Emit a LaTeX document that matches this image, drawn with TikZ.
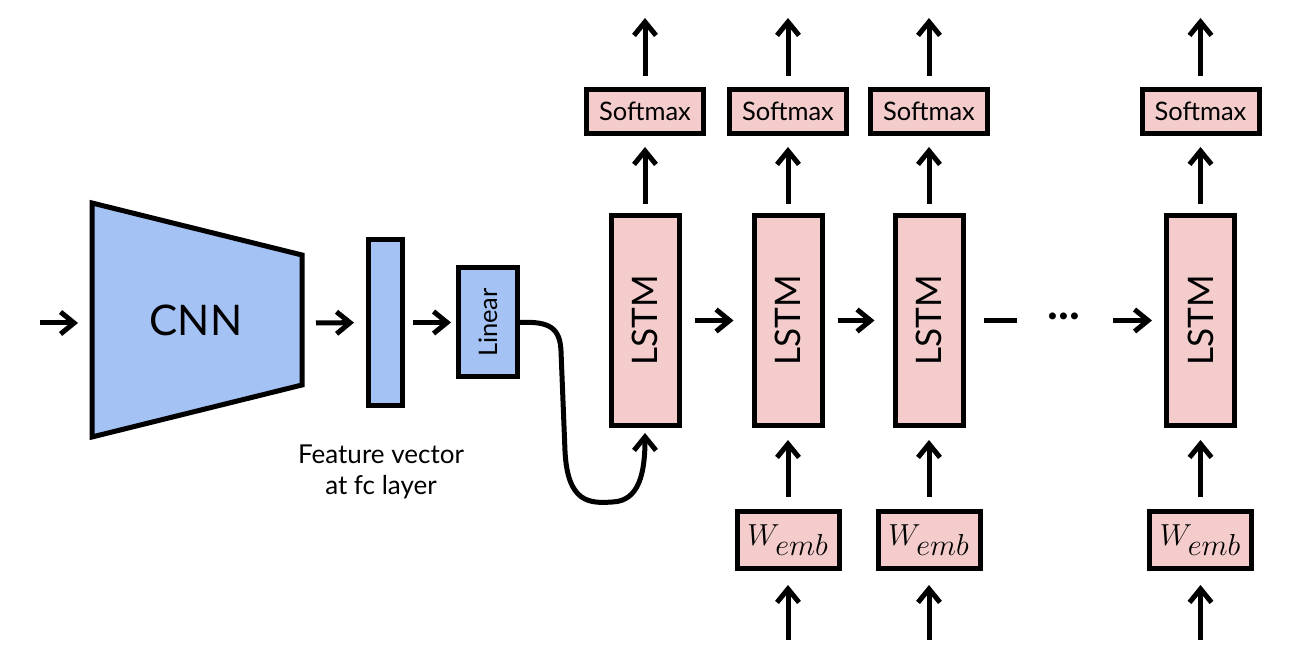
\documentclass[tikz,border=0pt]{standalone}
\usepackage{fontspec}
\setmainfont{Lato}
\usetikzlibrary{arrows.meta}

\definecolor{cnnblue}{HTML}{A4C2F4}
\definecolor{lstmpink}{HTML}{F4CCCC}

\tikzset{
  blk/.style={draw, line width=0.1cm, inner sep=0pt},
  bluebox/.style={blk, fill=cnnblue},
  pinkbox/.style={blk, fill=lstmpink},
  flow/.style={line width=0.1cm, -{Straight Barb[length=0.27cm,width=0.44cm]}},
}

\begin{document}
\begin{tikzpicture}
\useasboundingbox (0,0) rectangle (25.86,13.32);

% image encoder
\draw[line width=0.1cm, fill=cnnblue] (1.84,9.26) -- (6.04,8.22) -- (6.04,5.62) -- (1.84,4.58) -- cycle;
\node[font=\fontsize{24}{28}\selectfont] (cnn) at (3.92,6.92) {CNN};
\coordinate (src) at (0.8,6.86);
\coordinate (cnnin) at (1.84,6.86);
\coordinate (cnnout) at (6.04,6.86);

\node[bluebox, minimum width=0.68cm, minimum height=3.32cm] (feat) at (7.71,6.87) {};
\node[bluebox, minimum width=1.18cm, minimum height=2.18cm,
      font=\fontsize{14.5}{17}\selectfont] (linear) at (9.76,6.87) {\rotatebox{90}{Linear}};
\node[align=center, font=\fontsize{14.8}{17.5}\selectfont] (featlabel) at (7.62,3.88) {Feature vector\\at fc layer};

\draw[flow, shorten >=0.28cm] (src) -- (cnnin);
\draw[flow, shorten <=0.28cm, shorten >=0.24cm] (cnnout) -- (feat);
\draw[flow, shorten <=0.16cm, shorten >=0.1cm] (feat) -- (linear);

% decoder columns
\foreach \i/\x in {1/12.90, 2/15.76, 3/18.58, 4/24.01} {
  \node[pinkbox, minimum width=1.36cm, minimum height=4.2cm,
        font=\fontsize{20}{24}\selectfont] (lstm\i) at (\x,6.91) {\rotatebox{90}{LSTM}};
  \node[pinkbox, minimum width=2.34cm, minimum height=0.88cm,
        font=\fontsize{14.5}{17}\selectfont] (soft\i) at (\x,11.09) {Softmax};
  \coordinate (top\i) at (\x,12.96);
  \draw[flow, shorten <=0.18cm, shorten >=0.22cm] (lstm\i) -- (soft\i);
  \draw[flow, shorten <=0.22cm] (soft\i) -- (top\i);
}
\foreach \i in {2,3,4} {
  \node[pinkbox, minimum width=2.04cm, minimum height=1.14cm,
        font=\fontsize{17}{20}\selectfont] (emb\i) at (lstm\i |- 0,2.52) {$W_{\textstyle emb}$};
  \coordinate (bot\i) at (emb\i |- 0,0.52);
  \draw[flow, shorten <=0.24cm, shorten >=0.24cm] (emb\i) -- (lstm\i);
  \draw[flow, shorten >=0.28cm] (bot\i) -- (emb\i);
}

% recurrence
\draw[flow, shorten <=0.26cm, shorten >=0.36cm] (lstm1) -- (lstm2);
\draw[flow, shorten <=0.26cm, shorten >=0.36cm] (lstm2) -- (lstm3);
\coordinate (gapL) at (20.34,6.91);
\coordinate (gapR) at (22.26,6.91);
\node[font=\fontsize{26}{30}\selectfont\bfseries] (dots) at (21.28,7.0) {...};
\draw[line width=0.1cm, shorten <=0.36cm] (lstm3) -- (gapL);
\draw[flow, shorten >=0.24cm] (gapR) -- (lstm4);

% image feature into first step
\draw[flow, shorten >=0.1cm] (linear.east) .. controls (11.0,6.9) and (11.2,6.75) .. (11.22,6.3)
  -- (11.3,4.3) .. controls (11.35,3.25) and (11.8,3.25) .. (12.25,3.28)
  .. controls (12.8,3.3) and (12.9,3.9) .. (lstm1.south);
\end{tikzpicture}
\end{document}
